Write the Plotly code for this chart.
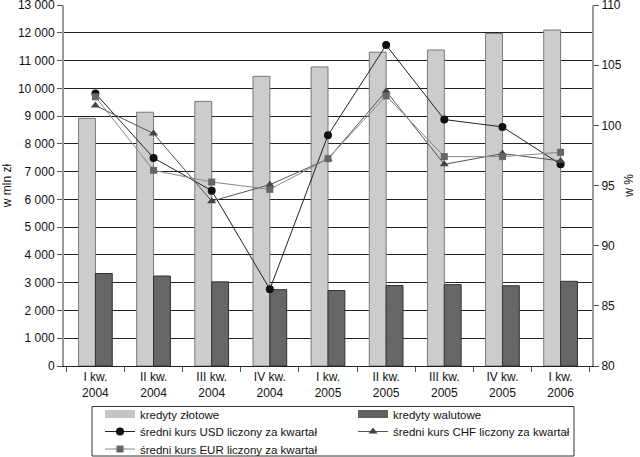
import plotly.graph_objects as go

categories = ["I kw.<br>2004", "II kw.<br>2004", "III kw.<br>2004", "IV kw.<br>2004",
              "I kw.<br>2005", "II kw.<br>2005", "III kw.<br>2005", "IV kw.<br>2005",
              "I kw.<br>2006"]
kredyty_zlotowe = [8920, 9140, 9530, 10430, 10770, 11300, 11380, 11970, 12100]
kredyty_walutowe = [3330, 3240, 3030, 2750, 2720, 2900, 2930, 2890, 3050]
kurs_usd = [102.65, 97.29, 94.57, 86.38, 99.18, 106.67, 100.48, 99.87, 96.76]
kurs_chf = [101.65, 99.32, 93.70, 95.07, 97.2, 102.84, 96.76, 97.65, 97.04]
kurs_eur = [102.37, 96.26, 95.29, 94.68, 97.23, 102.45, 97.40, 97.40, 97.76]

FAM = "Liberation Sans, Arial, sans-serif"
font = dict(family=FAM, size=12, color="#111111")
W, H = 640, 457

fig = go.Figure()
fig.add_trace(go.Bar(x=categories, y=kredyty_zlotowe, name="kredyty złotowe",
                     marker=dict(color="#cccccc", line=dict(color="#777777", width=1)),
                     yaxis="y", showlegend=False))
fig.add_trace(go.Bar(x=categories, y=kredyty_walutowe, name="kredyty walutowe",
                     marker=dict(color="#666666", line=dict(color="#333333", width=1)),
                     yaxis="y", showlegend=False))
# legend proxies for the bar series (wide rectangular swatches)
fig.add_trace(go.Scatter(x=[None], y=[None], name="kredyty złotowe", mode="lines",
                         line=dict(color="#c4c4c4", width=8), yaxis="y2", legend="legend"))
fig.add_trace(go.Scatter(x=[None], y=[None], name="kredyty walutowe", mode="lines",
                         line=dict(color="#606060", width=8), yaxis="y2", legend="legend"))
fig.add_trace(go.Scatter(x=categories, y=kurs_usd, name="średni kurs USD liczony za kwartał",
                         mode="lines+markers", yaxis="y2", legend="legend2",
                         line=dict(color="#222222", width=1),
                         marker=dict(symbol="circle", size=8, color="#111111")))
fig.add_trace(go.Scatter(x=categories, y=kurs_chf, name="średni kurs CHF liczony za kwartał",
                         mode="lines+markers", yaxis="y2", legend="legend2",
                         line=dict(color="#555555", width=1),
                         marker=dict(symbol="triangle-up", size=8, color="#444444")))
fig.add_trace(go.Scatter(x=categories, y=kurs_eur, name="średni kurs EUR liczony za kwartał",
                         mode="lines+markers", yaxis="y2", legend="legend3",
                         line=dict(color="#888888", width=1),
                         marker=dict(symbol="square", size=7, color="#666666")))


def row_legend(ypx):
    return dict(orientation="h", x=100 / W, xref="container", xanchor="left",
                y=1 - ypx / H, yref="container", yanchor="middle",
                entrywidth=208, entrywidthmode="pixels",
                borderwidth=0, bgcolor="rgba(0,0,0,0)",
                font=dict(family=FAM, size=11.5, color="#111111"),
                tracegroupgap=0, traceorder="normal")


fig.update_layout(
    width=W, height=H,
    margin=dict(l=64, r=48, t=5, b=91, autoexpand=False),
    paper_bgcolor="white", plot_bgcolor="white",
    font=font,
    separators=", ",
    barmode="group", bargap=0.42, bargroupgap=0,
    showlegend=True,
    legend=row_legend(414),
    legend2=row_legend(431.5),
    legend3=row_legend(449),
    xaxis=dict(showgrid=False, showline=True, linecolor="#222222", linewidth=1,
               ticks="outside", tickson="boundaries", ticklen=5, tickcolor="#555555",
               tickfont=font, mirror=False, automargin=False),
    yaxis=dict(range=[0, 13000], dtick=1000, tick0=0, tickformat=",d",
               showgrid=True, gridcolor="#222222", gridwidth=1,
               showline=True, linecolor="#999999", linewidth=2,
               ticks="outside", ticklen=5, tickcolor="#555555",
               tickfont=font, zeroline=False, automargin=False,
               ticklabeloverflow="allow",
               title=dict(text="w mln zł", font=font, standoff=8)),
    yaxis2=dict(range=[80, 110], dtick=5, tick0=80, overlaying="y", side="right",
                showgrid=False, showline=True, linecolor="#999999", linewidth=2,
                ticks="outside", ticklen=5, tickcolor="#555555",
                tickfont=font, zeroline=False, automargin=False,
                ticklabeloverflow="allow",
                title=dict(text="w %", font=font, standoff=4)),
)

# legend frame (paper coordinates derived from the plot-area pixel box)
pl, pr, pt, pb = 64, 592, 5, 366
fig.add_shape(type="rect", xref="paper", yref="paper",
              x0=(92 - pl) / (pr - pl), x1=(574 - pl) / (pr - pl),
              y0=(pb - 456) / (pb - pt), y1=(pb - 406.5) / (pb - pt),
              line=dict(color="#333333", width=1), fillcolor="rgba(0,0,0,0)", layer="above")

fig.write_html("out.html", config={"displayModeBar": False},
               post_script="document.body.style.margin='0';")
